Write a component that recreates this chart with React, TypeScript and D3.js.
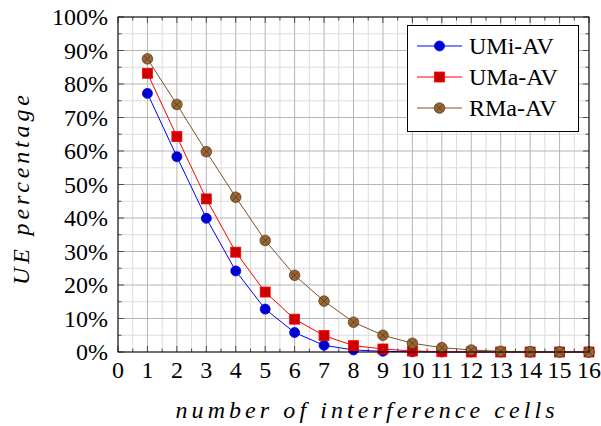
import React from "react";
import * as d3 from "d3";

const cells = [1, 2, 3, 4, 5, 6, 7, 8, 9, 10, 11, 12, 13, 14, 15, 16];
const umiAV = [77.2, 58.3, 39.9, 24.2, 12.8, 5.8, 2.0, 0.6, 0.2, 0.05, 0, 0, 0, 0, 0, 0];
const umaAV = [83.2, 64.3, 45.7, 29.8, 17.9, 9.8, 4.9, 1.9, 0.9, 0.3, 0.1, 0, 0, 0, 0, 0];
const rmaAV = [87.5, 73.9, 59.8, 46.2, 33.3, 22.9, 15.2, 8.9, 5.0, 2.6, 1.3, 0.6, 0.2, 0.1, 0, 0];
const seriesNames = ["UMi-AV", "UMa-AV", "RMa-AV"];
const xTicks = d3.range(0, 17);
const yTicks = d3.range(0, 101, 10);

const FAMILY = "Liberation Serif, Tinos, serif";
const FONT = { fontFamily: FAMILY };

const styles = [
  { line: "#0000ff", fill: "#0000cc", stroke: "#0000ff", mark: "circle" },
  { line: "#ff0000", fill: "#cc0000", stroke: "#ff0000", mark: "square" },
  { line: "#7a5229", fill: "#996633", stroke: "#4d3319", mark: "otimes" },
];

const Mark = ({ cx, cy, s }: { cx: number; cy: number; s: any }) => {
  if (s.mark === "circle")
    return <circle cx={cx} cy={cy} r={5} fill={s.fill} stroke={s.stroke} strokeWidth={0.8} />;
  if (s.mark === "square")
    return <rect x={cx - 5} y={cy - 5} width={10} height={10} fill={s.fill} stroke={s.stroke} strokeWidth={0.8} />;
  const d = 5.3 * Math.SQRT1_2;
  return (
    <g>
      <circle cx={cx} cy={cy} r={5.3} fill={s.fill} stroke={s.stroke} strokeWidth={0.7} />
      <path
        d={`M${cx - d},${cy - d}L${cx + d},${cy + d}M${cx - d},${cy + d}L${cx + d},${cy - d}`}
        stroke={s.stroke}
        strokeWidth={0.7}
      />
    </g>
  );
};

const App = () => {
  const x = d3.scaleLinear().domain([0, 16]).range([118, 589]);
  const y = d3.scaleLinear().domain([0, 100]).range([352, 17]);
  const allSeries = [umiAV, umaAV, rmaAV];
  const line = d3
    .line<number>()
    .x((_, i) => x(cells[i]))
    .y((d) => y(d));

  const xMinor = d3.range(0.5, 16, 1);
  const yMinor = d3.range(5, 100, 10);

  return (
    <svg
      width={601}
      height={426}
      style={{ position: "absolute", left: 0, top: 0, display: "block", fontFamily: FAMILY }}
    >
      {/* grid */}
      {xMinor.map((v) => (
        <line key={"xm" + v} x1={x(v)} x2={x(v)} y1={y(0)} y2={y(100)} stroke="#dcdcdc" />
      ))}
      {yMinor.map((v) => (
        <line key={"ym" + v} x1={x(0)} x2={x(16)} y1={y(v)} y2={y(v)} stroke="#dcdcdc" />
      ))}
      {xTicks.map((v) => (
        <line key={"xg" + v} x1={x(v)} x2={x(v)} y1={y(0)} y2={y(100)} stroke="#b5b5b5" />
      ))}
      {yTicks.map((v) => (
        <line key={"yg" + v} x1={x(0)} x2={x(16)} y1={y(v)} y2={y(v)} stroke="#b5b5b5" />
      ))}

      {/* inward ticks */}
      <g stroke="#4d4d4d">
        {d3.range(0, 16.01, 0.5).map((v) => {
          const len = Number.isInteger(v) ? 6 : 3.5;
          return (
            <g key={"xt" + v}>
              <line x1={x(v)} x2={x(v)} y1={y(0)} y2={y(0) - len} />
              <line x1={x(v)} x2={x(v)} y1={y(100)} y2={y(100) + len} />
            </g>
          );
        })}
        {d3.range(0, 100.01, 5).map((v) => {
          const len = v % 10 === 0 ? 6 : 3.5;
          return (
            <g key={"yt" + v}>
              <line x1={x(0)} x2={x(0) + len} y1={y(v)} y2={y(v)} />
              <line x1={x(16)} x2={x(16) - len} y1={y(v)} y2={y(v)} />
            </g>
          );
        })}
      </g>

      {/* tick labels */}
      {xTicks.map((v) => (
        <text key={"xl" + v} x={x(v)} y={y(0) + 26} textAnchor="middle" fontSize={24} style={FONT}>
          {v}
        </text>
      ))}
      {yTicks.map((v) => (
        <text key={"yl" + v} x={x(0) - 10} y={y(v) + 8} textAnchor="end" fontSize={24} style={FONT}>
          {v + "%"}
        </text>
      ))}

      {/* axis labels */}
      <text
        x={365}
        y={418}
        textAnchor="middle"
        fontSize={24}
        fontStyle="italic"
        textLength={379}
        lengthAdjust="spacing"
        style={FONT}
      >
        number of interference cells
      </text>
      <text
        transform="translate(29,190) rotate(-90)"
        textAnchor="middle"
        fontSize={24}
        fontStyle="italic"
        textLength={190}
        lengthAdjust="spacing"
        style={FONT}
      >
        UE percentage
      </text>

      {/* series */}
      {allSeries.map((data, k) => (
        <g key={"s" + k}>
          <path d={line(data) || ""} fill="none" stroke={styles[k].line} strokeWidth={1} />
          {data.map((v, i) => (
            <Mark key={i} cx={x(cells[i])} cy={y(v)} s={styles[k]} />
          ))}
        </g>
      ))}

      {/* axis box */}
      <rect x={x(0)} y={y(100)} width={x(16) - x(0)} height={y(0) - y(100)} fill="none" stroke="#000" />

      {/* legend */}
      <rect x={407.5} y={25.5} width={171} height={106} fill="#fff" stroke="#000" />
      {seriesNames.map((name, k) => {
        const cy = 46 + k * 31;
        return (
          <g key={name}>
            <line x1={417} x2={462} y1={cy} y2={cy} stroke={styles[k].line} />
            <Mark cx={439.5} cy={cy} s={styles[k]} />
            <text x={469} y={cy + 8} fontSize={24} style={FONT}>
              {name}
            </text>
          </g>
        );
      })}
    </svg>
  );
};

export default App;
